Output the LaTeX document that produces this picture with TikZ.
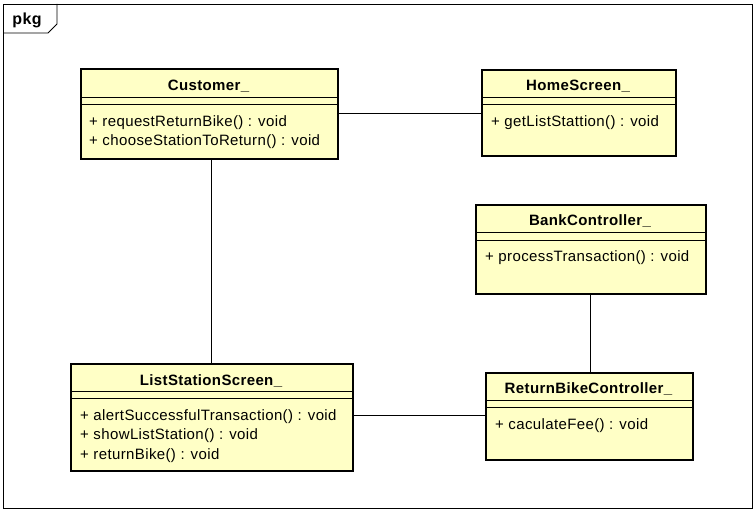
\documentclass[tikz,border=0pt]{standalone}
\usepackage{fontspec}
\setmainfont{Liberation Sans}[LetterSpace=2.5]
\usepackage{xcolor}
\definecolor{umlyellow}{RGB}{255,255,198}

\tikzset{
  classbox/.style={draw, line width=1.6pt, fill=umlyellow},
  classname/.style={font=\fontsize{15}{17}\selectfont\bfseries},
  member/.style={anchor=west, inner sep=0pt, font=\fontsize{15}{17}\selectfont},
  sepline/.style={line width=0.8pt},
  assoc/.style={line width=0.8pt}
}

\begin{document}
\begin{tikzpicture}[x=1pt,y=-1pt]
\useasboundingbox (0,0) rectangle (756,513);

% frame and tab:
\draw[line width=0.8pt] (3,4) rectangle (752,508);
\draw[line width=0.8pt] (3,33) -- (48,33) -- (57,24) -- (57,4);
\node[classname, font=\fontsize{16}{18}\selectfont\bfseries] (pkg) at (27,20) {pkg};

% Customer_
\node[classbox, minimum width=257pt, minimum height=90pt, anchor=north west] (customer) at (80,68) {};
\node[classname] (customertitle) at (208.5,86) {Customer\_};
\draw[sepline] (80,97) -- (337,97);
\draw[sepline] (80,104) -- (337,104);
\node[member] at (89,122.5) {+ requestReturnBike() : void};
\node[member] at (89,142) {+ chooseStationToReturn() : void};

% HomeScreen_
\node[classbox, minimum width=194pt, minimum height=86pt, anchor=north west] (home) at (481,69) {};
\node[classname] (hometitle) at (578,86) {HomeScreen\_};
\draw[sepline] (481,97) -- (675,97);
\draw[sepline] (481,104) -- (675,104);
\node[member] at (491,122.5) {+ getListStattion() : void};

% BankController_
\node[classbox, minimum width=230pt, minimum height=89pt, anchor=north west] (bank) at (475,204) {};
\node[classname] (banktitle) at (590,221) {BankController\_};
\draw[sepline] (475,232) -- (705,232);
\draw[sepline] (475,240) -- (705,240);
\node[member] at (485,257.5) {+ processTransaction() : void};

% ListStationScreen_
\node[classbox, minimum width=282pt, minimum height=107pt, anchor=north west] (list) at (70,363) {};
\node[classname] (listtitle) at (211,381) {ListStationScreen\_};
\draw[sepline] (70,391) -- (352,391);
\draw[sepline] (70,398) -- (352,398);
\node[member] at (80,416.5) {+ alertSuccessfulTransaction() : void};
\node[member] at (80,436) {+ showListStation() : void};
\node[member] at (80,456) {+ returnBike() : void};

% ReturnBikeController_
\node[classbox, minimum width=207pt, minimum height=87pt, anchor=north west] (returnbike) at (485,372) {};
\node[classname] (returnbiketitle) at (588.5,389) {ReturnBikeController\_};
\draw[sepline] (485,400) -- (692,400);
\draw[sepline] (485,407) -- (692,407);
\node[member] at (495,426) {+ caculateFee() : void};

% associations:
\draw[assoc] (customer.east |- 0,113) -- (home.west |- 0,113);
\draw[assoc] (customer.south -| 211,0) -- (list.north -| 211,0);
\draw[assoc] (bank.south) -- (returnbike.north -| bank.south);
\draw[assoc] (list.east |- 0,415) -- (returnbike.west |- 0,415);

\end{tikzpicture}
\end{document}
